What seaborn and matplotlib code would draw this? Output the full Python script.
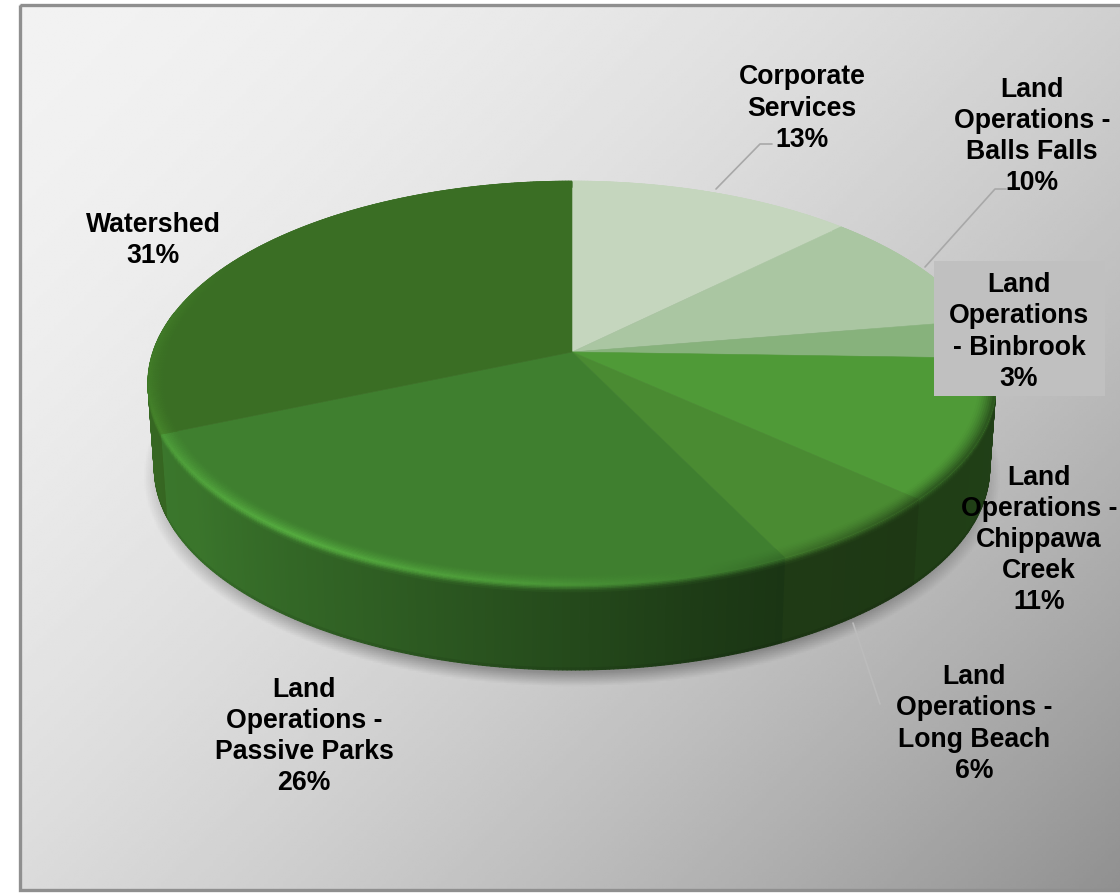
import numpy as np
import pandas as pd
import seaborn as sns
import matplotlib.pyplot as plt
from matplotlib.collections import PolyCollection
from matplotlib.patches import Polygon, Rectangle

# Data
categories = ["Corporate\nServices", "Land\nOperations -\nBalls Falls", "Land\nOperations\n- Binbrook",
              "Land\nOperations -\nChippawa\nCreek", "Land\nOperations -\nLong Beach",
              "Land\nOperations -\nPassive Parks", "Watershed"]
shares = [12.6, 9.8, 3.1, 11.2, 6.1, 25.8, 31.4]
slice_colors = ["#C5D6BE", "#AAC6A2", "#87B27C", "#4F9A37", "#4A8B32", "#3F7F2F", "#3A6E24"]

label_x = [802, 1032, 1019, 1039, 974, 304, 153]
label_y = [108.5, 136.5, 332, 540, 724, 736.5, 240.5]

data = pd.DataFrame({"category": categories, "share": shares, "color": slice_colors})
data["end"] = data["share"].cumsum() / data["share"].sum() * 360
data["start"] = data["end"].shift(fill_value=0)

sns.set_theme(style="white")
plt.rcParams["font.family"] = ["Liberation Sans", "DejaVu Sans"]

W, H = 1120, 893
fig = plt.figure(figsize=(W / 100, H / 100), dpi=100)
ax = fig.add_axes([0, 0, 1, 1])
sns.despine(ax=ax, left=True, bottom=True)

# Background gradient with border
yy, xx = np.mgrid[4:891:300j, 19:1125:300j]
t = ((xx + yy) / (1125 + 891)) ** 1.8
ax.imshow(242 - 98 * t, extent=(19, 1125, 891, 4), cmap="gray", vmin=0, vmax=255,
          aspect="auto", zorder=0, interpolation="bilinear")
ax.add_patch(Rectangle((19.5, 5), 1110, 885, fill=False, ec="#8f8f8f", lw=2.4, zorder=1))

# Pie geometry, tilted circle seen in perspective
CX, CY, A, B, K = 572, 352, 419, 197.2, 0.1535
DEPTH = 85


def project(theta, r=1.0):
    rad = np.radians(theta)
    u, v = r * np.sin(rad), r * np.cos(rad)
    w = 1 + K * v
    return CX + A * u / w, CY - B * v / w


def side_point(theta, d):
    x, y = project(theta)
    return CX + (x - CX) * (1 - 0.015 * d / DEPTH), y + d


def side_shade(theta):
    return np.interp(theta, [90, 130, 155, 165, 183, 205, 235, 270],
                     [0.42, 0.40, 0.42, 0.47, 0.60, 0.75, 0.92, 0.95])


def rim_shade(theta):
    return np.interp(theta, [84, 93, 130, 150, 165, 185, 215, 240, 262, 280, 300],
                     [1.0, 0.55, 0.6, 0.8, 1.0, 1.2, 1.35, 1.25, 1.12, 1.1, 1.0])


def rgb(hex_color):
    return np.array([int(hex_color[i:i + 2], 16) / 255 for i in (1, 3, 5)])


# Soft shadow under the pie
sy, sx = np.mgrid[0:H:450j, 0:W:560j]
dist = np.sqrt(((sx - CX) / 405) ** 2 + ((sy - 476) / 199) ** 2)
shadow = np.zeros(sx.shape + (4,))
shadow[..., 3] = np.clip((1.06 - dist) / 0.07, 0, 1) * 0.3
ax.imshow(shadow, extent=(0, W, H, 0), aspect="auto", zorder=2)

# Side wall, only the part that faces the viewer, back to front
wall_items = []
depth_steps = [0, 1.5, 3, 4.5, 6, 8, 83, 85]
depth_mix = [0, 0.25, 0.5, 0.75, 0.9, 1, 1, 1]
for _, row in data.iterrows():
    base = rgb(row["color"])
    angles = np.arange(row["start"], row["end"] + 0.5, 0.5)
    angles[-1] = row["end"]
    for a0, a1 in zip(angles[:-1], angles[1:]):
        mid = (a0 + a1) / 2
        if mid < 80 or mid > 282:
            continue
        rim = np.clip(base * rim_shade(mid), 0, 1)
        wall = base * side_shade(mid)
        for i in range(len(depth_steps) - 1):
            d0, d1 = depth_steps[i], depth_steps[i + 1]
            col = rim + (wall - rim) * depth_mix[i]
            if i == len(depth_steps) - 2:
                col = wall * 0.92
            quad = [side_point(a0, d0), side_point(a1, d0), side_point(a1, d1), side_point(a0, d1)]
            wall_items.append((-abs(mid - 180), quad, col))
wall_items.sort(key=lambda item: item[0])
quads = [item[1] for item in wall_items]
colors = [item[2] for item in wall_items]
ax.add_collection(PolyCollection(quads, facecolors=colors, edgecolors=colors, linewidths=0.8, zorder=3))

# Top faces
for _, row in data.iterrows():
    angles = np.linspace(row["start"], row["end"], 120)
    xs, ys = project(angles)
    pts = np.column_stack([np.r_[CX, xs], np.r_[CY, ys]])
    ax.add_patch(Polygon(pts, closed=True, fc=row["color"], ec=row["color"], lw=0.4, zorder=4))

# Bevel along the rim of the top faces
quads, colors = [], []
radii = np.linspace(0.962, 1.0, 9)
for _, row in data.iterrows():
    base = rgb(row["color"])
    angles = np.arange(row["start"], row["end"] + 0.5, 0.5)
    angles[-1] = row["end"]
    for a0, a1 in zip(angles[:-1], angles[1:]):
        mid = (a0 + a1) / 2
        rim = np.clip(base * rim_shade(mid), 0, 1)
        for i in range(len(radii) - 1):
            col = base + (rim - base) * ((i + 1) / (len(radii) - 1)) ** 1.5
            quads.append([project(a0, radii[i]), project(a1, radii[i]), project(a1, radii[i + 1]), project(a0, radii[i + 1])])
            colors.append(col)
ax.add_collection(PolyCollection(quads, facecolors=colors, edgecolors=colors, linewidths=0.5, zorder=5))

# Leader lines
leaders = [([716, 760, 772], [189, 144, 144], "#a8a8a8"),
           ([925, 995, 1006], [267, 189, 189], "#a8a8a8"),
           ([853, 880], [623, 704], "#bcbcbc")]
for lx, ly, lc in leaders:
    ax.plot(lx, ly, color=lc, lw=1.2, zorder=6)

# Box behind the Binbrook label
ax.add_patch(Rectangle((934, 261), 171, 135, fc="#c0c0c0", ec="none", zorder=7))

for row, x, y in zip(data.itertuples(), label_x, label_y):
    ax.text(x, y, f"{row.category}\n{round(row.share)}%", ha="center", va="center", fontsize=19.2,
            fontweight="bold", color="black", linespacing=1.26, zorder=8)

ax.set_xlim(0, W)
ax.set_ylim(H, 0)
ax.axis("off")
fig.patch.set_facecolor("white")

plt.savefig("out.png", dpi=100)
